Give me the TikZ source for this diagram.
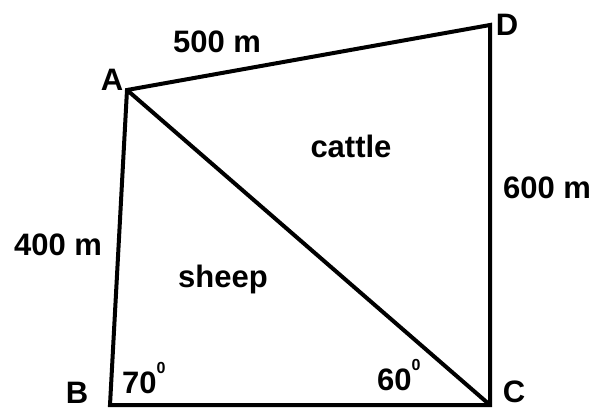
\documentclass[tikz,border=0pt]{standalone}
\usepackage{fontspec}
\setmainfont{Liberation Sans}
\newcommand{\supzero}{\raisebox{20pt}{\fontsize{16}{16}\selectfont 0}}
\begin{document}
\begin{tikzpicture}[x=1pt, y=-1pt, font=\fontsize{31}{36}\selectfont\bfseries]
  \tikzset{side/.style={line width=4pt, line join=miter},
           lbl/.style={inner sep=0pt, anchor=base}}
  \useasboundingbox (0,0) rectangle (597,407);
  % corners of the field
  \coordinate (A) at (127,90);
  \coordinate (D) at (490,25);
  \coordinate (C) at (490,405);
  \coordinate (B) at (110,405);
  \draw[side] (A) -- (D) -- (C) -- (B) -- cycle;
  \draw[side] (A) -- (C);
  % corner letters
  \node[lbl] (la) at (112,90) {A};
  \node[lbl] (ld) at (507,35) {D};
  \node[lbl] (lc) at (514,402) {C};
  \node[lbl] (lb) at (77,403) {B};
  % lengths
  \node[lbl] (ad) at (217,52) {500 m};
  \node[lbl] (dc) at (547,198) {600 m};
  \node[lbl] (ab) at (58,255) {400 m};
  % areas
  \node[lbl] (cattle) at (351,157) {cattle};
  \node[lbl] (sheep) at (223,287) {sheep};
  % angles
  \node[lbl, anchor=base west] (angb) at (122,393) {70\supzero};
  \node[lbl, anchor=base west] (angc) at (377,390) {60\supzero};
\end{tikzpicture}
\end{document}
